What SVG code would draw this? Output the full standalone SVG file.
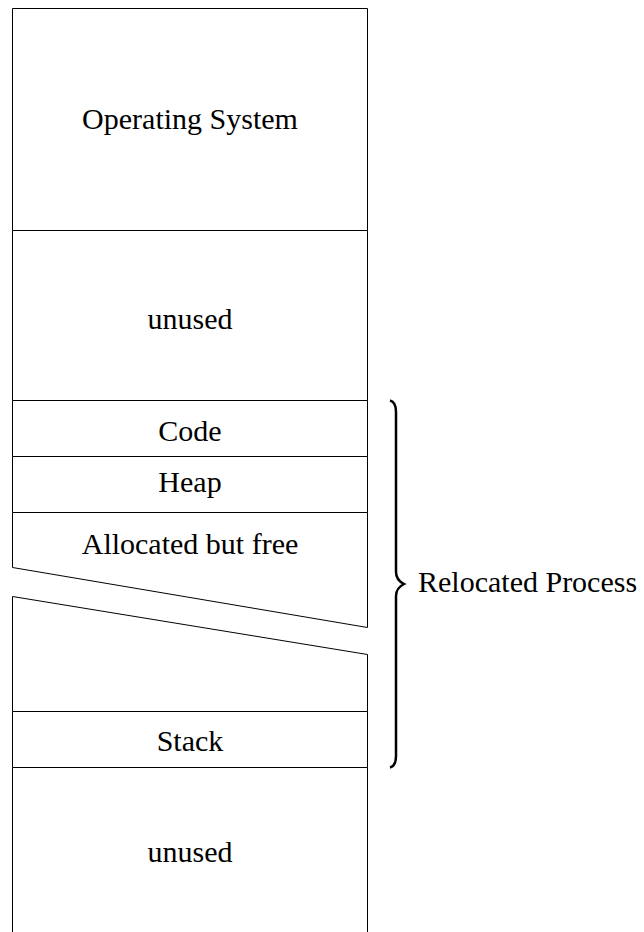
<svg xmlns="http://www.w3.org/2000/svg" width="644" height="932" viewBox="0 0 644 932">
<style>
.b{fill:none;stroke:#000;stroke-width:1}
.t{font-family:"Liberation Serif","DejaVu Serif",serif;font-size:30px;text-anchor:middle;fill:#000}
</style>
<rect width="644" height="932" fill="#fff"/>
<g id="os"><path class="b" d="M12.5,230.5 V8.5 H367.5 V230.5"/><text class="t" x="190" y="129">Operating System</text></g>
<g id="unused1"><path class="b" d="M12.5,230.5 H367.5 M12.5,230.5 V400.5 M367.5,230.5 V400.5"/><text class="t" x="190" y="329">unused</text></g>
<g id="code"><path class="b" d="M12.5,400.5 H367.5 M12.5,400.5 V456.5 M367.5,400.5 V456.5"/><text class="t" x="190" y="441">Code</text></g>
<g id="heap"><path class="b" d="M12.5,456.5 H367.5 M12.5,456.5 V512.5 M367.5,456.5 V512.5"/><text class="t" x="190" y="492">Heap</text></g>
<g id="alloc"><path class="b" d="M12.5,512.5 H367.5 M12.5,512.5 V567.5 L367.5,627.5 V512.5"/><text class="t" x="190" y="554">Allocated but free</text></g>
<g id="lower"><path class="b" d="M12.5,711.5 V596.5 L367.5,654.5 V711.5"/></g>
<g id="stack"><path class="b" d="M12.5,711.5 H367.5 M12.5,767.5 H367.5 M12.5,711.5 V767.5 M367.5,711.5 V767.5"/><text class="t" x="190" y="751">Stack</text></g>
<g id="unused2"><path class="b" d="M12.5,767.5 V932 M367.5,767.5 V932"/><text class="t" x="190" y="862">unused</text></g>
<g id="brace"><path fill="none" stroke="#000" stroke-width="2.5" d="M390,400.5 Q396,402 396,412 V572 Q396,580 404,584 Q396,588 396,596 V756 Q396,766 390,767.5"/><text class="t" x="418" y="592" style="text-anchor:start">Relocated Process</text></g>
</svg>
